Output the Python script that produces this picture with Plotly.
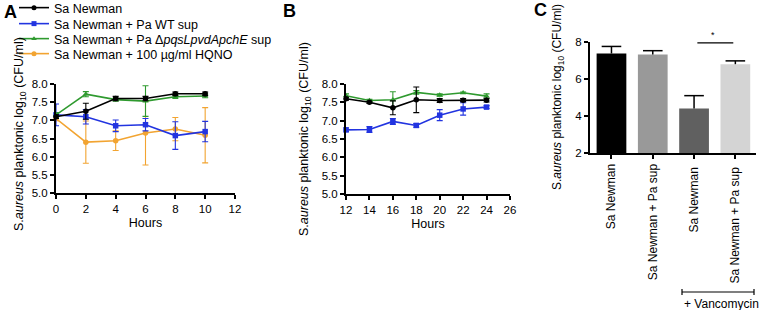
import plotly.graph_objects as go

# ---------------- Data ----------------
hours_a = [0, 2, 4, 6, 8, 10]
a_black = [7.10, 7.25, 7.60, 7.60, 7.73, 7.73]
a_black_err = [0.05, 0.22, 0.06, 0.06, 0.05, 0.05]
a_blue = [7.15, 7.10, 6.85, 6.88, 6.58, 6.69]
a_blue_err = [0.30, 0.20, 0.16, 0.17, 0.38, 0.28]
a_green = [7.15, 7.72, 7.57, 7.53, 7.65, 7.67]
a_green_err = [0.06, 0.07, 0.04, 0.42, 0.05, 0.05]
a_orange = [7.05, 6.40, 6.44, 6.65, 6.76, 6.59]
a_orange_err = [0.06, 0.58, 0.27, 0.88, 0.32, 0.76]

hours_b = [12, 14, 16, 18, 20, 22, 24]
b_black = [7.60, 7.50, 7.35, 7.57, 7.55, 7.56, 7.56]
b_black_err = [0.04, 0.03, 0.19, 0.35, 0.05, 0.04, 0.05]
b_blue = [6.75, 6.76, 6.98, 6.87, 7.15, 7.32, 7.37]
b_blue_err = [0.05, 0.08, 0.08, 0.05, 0.15, 0.17, 0.04]
b_green = [7.68, 7.55, 7.57, 7.77, 7.70, 7.76, 7.67]
b_green_err = [0.05, 0.03, 0.22, 0.05, 0.03, 0.02, 0.06]

c_labels = ["Sa Newman", "Sa Newman + Pa sup", "Sa Newman ", "Sa Newman + Pa sup "]
c_values = [7.38, 7.33, 4.40, 6.80]
c_err = [0.38, 0.20, 0.70, 0.18]
c_colors = ["#000000", "#999999", "#606060", "#d4d4d4"]

series_names = ["Sa Newman", "Sa Newman + Pa WT sup",
                "Sa Newman + Pa Δ<i>pqsLpvdApchE</i> sup",
                "Sa Newman + 100 µg/ml HQNO"]
series_colors = ["#000000", "#2234e0", "#2f9a2f", "#f2a431"]
series_symbols = ["circle", "square", "triangle-up", "circle"]

W, H = 760, 310
FONT = "Liberation Sans, Arial, sans-serif"
ytitle = "S.<i>aureus</i> planktonic log<sub>10</sub> (CFU/ml)"

def px_x(p):
    return p / W

def px_y(p):
    return 1 - p / H

fig = go.Figure()

def add_series(x, y, err, idx, xa, ya):
    fig.add_trace(go.Scatter(
        x=x, y=y, mode="lines+markers", name=series_names[idx],
        line=dict(color=series_colors[idx], width=1.6),
        marker=dict(color=series_colors[idx], size=5.5, symbol=series_symbols[idx]),
        error_y=dict(type="data", array=err, color=series_colors[idx], thickness=1.1, width=3),
        xaxis=xa, yaxis=ya, showlegend=False, cliponaxis=False))

# Panel A
add_series(hours_a, a_orange, a_orange_err, 3, "x", "y")
add_series(hours_a, a_blue, a_blue_err, 1, "x", "y")
add_series(hours_a, a_green, a_green_err, 2, "x", "y")
add_series(hours_a, a_black, a_black_err, 0, "x", "y")
# legend entries, one legend per row
legend_ids = ["legend", "legend2", "legend3", "legend4"]
for i in range(4):
    fig.add_trace(go.Scatter(
        x=[None], y=[None], mode="lines+markers", name=series_names[i],
        line=dict(color=series_colors[i], width=1.6),
        marker=dict(color=series_colors[i], size=5, symbol=series_symbols[i]),
        xaxis="x", yaxis="y", showlegend=True, legend=legend_ids[i]))

# Panel B
add_series(hours_b, b_blue, b_blue_err, 1, "x2", "y2")
add_series(hours_b, b_green, b_green_err, 2, "x2", "y2")
add_series(hours_b, b_black, b_black_err, 0, "x2", "y2")

# Panel C bars
fig.add_trace(go.Bar(x=c_labels, y=c_values, marker=dict(color=c_colors, line=dict(width=0)),
                     width=0.72, xaxis="x3", yaxis="y3", showlegend=False))
# one-sided error bars (top only)
stem_x, stem_y = [], []
for lab, v, e in zip(c_labels, c_values, c_err):
    stem_x += [lab, lab, None]
    stem_y += [v, v + e, None]
fig.add_trace(go.Scatter(x=stem_x, y=stem_y, mode="lines", line=dict(color="black", width=1.5),
                         xaxis="x3", yaxis="y3", showlegend=False, hoverinfo="skip", cliponaxis=False))
fig.add_trace(go.Scatter(x=c_labels, y=[v + e for v, e in zip(c_values, c_err)], mode="markers",
                         marker=dict(symbol="line-ew", size=14, line=dict(color="black", width=1.5)),
                         xaxis="x3", yaxis="y3", showlegend=False, hoverinfo="skip", cliponaxis=False))

axis_common = dict(showline=True, linecolor="black", linewidth=2, ticks="outside",
                   tickcolor="black", ticklen=4, tickwidth=1.5, showgrid=False, zeroline=False,
                   automargin=False,
                   tickfont=dict(size=11.5, color="black", family=FONT))

leg_common = dict(xanchor="left", yanchor="middle", bgcolor="rgba(0,0,0,0)",
                  font=dict(size=12.5, family=FONT), itemwidth=30)
legend_rows = [8, 24, 39, 54]

fig.update_layout(
    width=W, height=H, margin=dict(l=0, r=0, t=0, b=0, autoexpand=False),
    paper_bgcolor="white", plot_bgcolor="white",
    font=dict(family=FONT, color="black", size=12),
    xaxis=dict(domain=[px_x(56), px_x(235)], range=[0, 12], tickvals=[0, 2, 4, 6, 8, 10, 12],
               anchor="y", title=dict(text="Hours", font=dict(size=12.5), standoff=4), **axis_common),
    yaxis=dict(domain=[px_y(193), px_y(84)], range=[5, 8], tickvals=[5, 5.5, 6, 6.5, 7, 7.5, 8],
               tickformat=".1f", anchor="x", **axis_common),
    xaxis2=dict(domain=[px_x(346), px_x(510)], range=[12, 26], tickvals=list(range(12, 27, 2)),
                anchor="y2", title=dict(text="Hours", font=dict(size=12.5), standoff=4), **axis_common),
    yaxis2=dict(domain=[px_y(194), px_y(84)], range=[5, 8], tickvals=[5, 5.5, 6, 6.5, 7, 7.5, 8],
                tickformat=".1f", anchor="x2", **axis_common),
    xaxis3=dict(domain=[px_x(590), px_x(756)], range=[-0.52, 3.5], anchor="y3", tickangle=-90,
                showline=True, linecolor="black", linewidth=2, ticks="outside", tickcolor="black",
                ticklen=4, tickwidth=1.5, showgrid=False, automargin=False,
                tickfont=dict(size=12, color="black", family=FONT)),
    yaxis3=dict(domain=[px_y(153), px_y(42)], range=[2, 8], tickvals=[2, 4, 6, 8], anchor="x3",
                **axis_common),
    legend=dict(x=px_x(14), y=px_y(legend_rows[0]), **leg_common),
    legend2=dict(x=px_x(14), y=px_y(legend_rows[1]), **leg_common),
    legend3=dict(x=px_x(14), y=px_y(legend_rows[2]), **leg_common),
    legend4=dict(x=px_x(14), y=px_y(legend_rows[3]), **leg_common),
    bargap=0.3,
)

annotations = []
for letter, xp, yp in [("A", 10, 12), ("B", 289, 11), ("C", 540, 10)]:
    annotations.append(dict(text=f"<b>{letter}</b>", x=px_x(xp), y=px_y(yp), xref="paper", yref="paper",
                            xanchor="center", yanchor="middle",
                            showarrow=False, font=dict(size=18, family=FONT)))
for xp, yc, fs in [(20, 134, 12.5), (305, 139, 12.5), (558, 97, 12)]:
    annotations.append(dict(text=ytitle, x=px_x(xp), y=px_y(yc), xref="paper", yref="paper",
                            xanchor="center", yanchor="middle",
                            textangle=-90, showarrow=False, font=dict(size=fs, family=FONT)))
annotations.append(dict(text="*", x=2.45, y=8.0, xref="x3", yref="y3", yanchor="bottom",
                        xanchor="center", showarrow=False, font=dict(size=9)))
annotations.append(dict(text="+ Vancomycin", x=px_x(721), y=px_y(304), xref="paper", yref="paper",
                        xanchor="center", yanchor="middle",
                        showarrow=False, font=dict(size=12, family=FONT)))
fig.update_layout(annotations=annotations)

shapes = [
    dict(type="line", xref="x3", yref="y3", x0=2.08, x1=2.95, y0=7.95, y1=7.95,
         line=dict(color="black", width=1.2)),
    dict(type="line", xref="paper", yref="paper", x0=px_x(682), x1=px_x(754), y0=px_y(292), y1=px_y(292),
         line=dict(color="black", width=1.2)),
    dict(type="line", xref="paper", yref="paper", x0=px_x(682), x1=px_x(682), y0=px_y(289), y1=px_y(295),
         line=dict(color="black", width=1.2)),
    dict(type="line", xref="paper", yref="paper", x0=px_x(754), x1=px_x(754), y0=px_y(289), y1=px_y(295),
         line=dict(color="black", width=1.2)),
]
fig.update_layout(shapes=shapes)

fig.write_html("out.html", config={"displayModeBar": False},
               post_script="document.body.style.margin='0';")
